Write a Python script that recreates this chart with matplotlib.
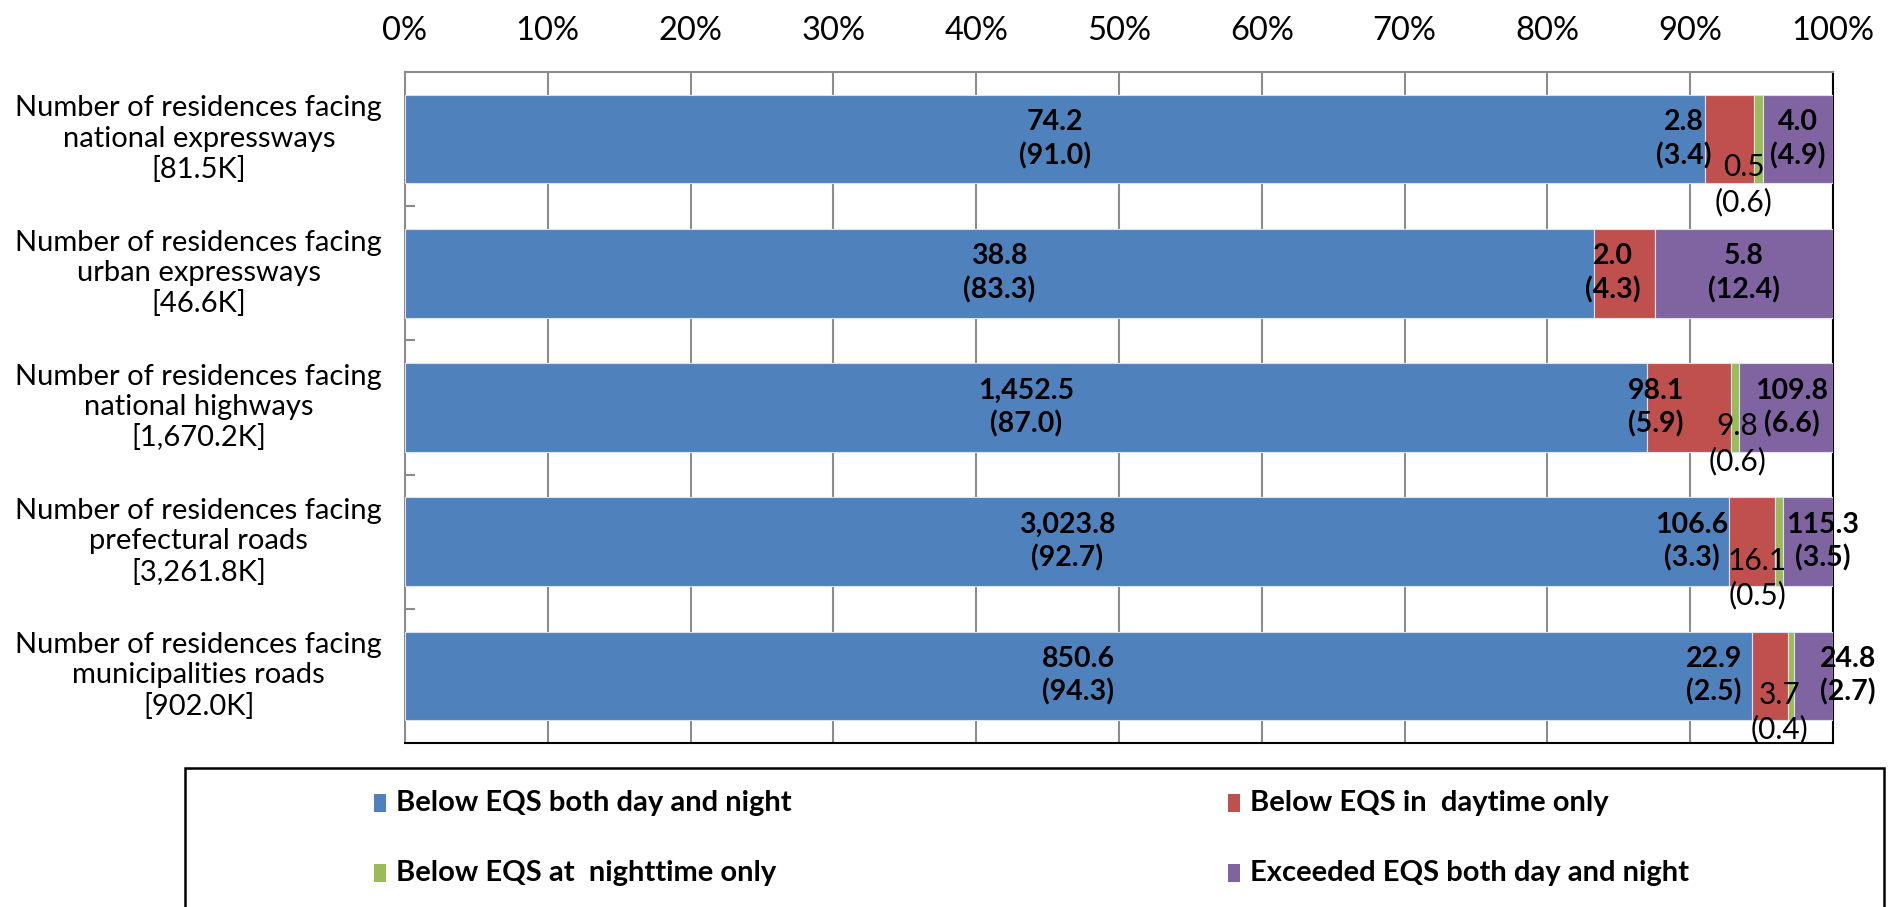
import matplotlib
matplotlib.use('Agg')
import matplotlib.pyplot as plt
import matplotlib.transforms as mtransforms
from matplotlib.patches import Rectangle

plt.rcParams['font.family'] = ['Lato', 'DejaVu Sans']

categories = ["Number of residences facing\nnational expressways\n[81.5K]",
              "Number of residences facing\nurban expressways\n[46.6K]",
              "Number of residences facing\nnational highways\n[1,670.2K]",
              "Number of residences facing\nprefectural roads\n[3,261.8K]",
              "Number of residences facing\nmunicipalities roads\n[902.0K]"]
totals = [81.5, 46.6, 1670.2, 3261.8, 902.0]

both = [74.2, 38.8, 1452.5, 3023.8, 850.6]
day_only = [2.8, 2.0, 98.1, 106.6, 22.9]
night_only = [0.5, 0.0, 9.8, 16.1, 3.7]
exceeded = [4.0, 5.8, 109.8, 115.3, 24.8]

both_pct = [91.0, 83.3, 87.0, 92.7, 94.3]
day_pct = [3.4, 4.3, 5.9, 3.3, 2.5]
night_pct = [0.6, None, 0.6, 0.5, 0.4]
exceeded_pct = [4.9, 12.4, 6.6, 3.5, 2.7]

series_names = ["Below EQS both day and night", "Below EQS in  daytime only",
                "Below EQS at  nighttime only", "Exceeded EQS both day and night"]
colors = ['#4F81BD', '#C0504D', '#9BBB59', '#8064A2']

# manual nudges of the data labels (percent of axis / fraction of a row)
red_dx = [-3.2, -0.8, -2.3, -4.2, -3.9]
green_dx = [-1.05, 0, 0.15, -1.5, -0.8]
green_dy = [0.34, 0, 0.27, 0.27, 0.27]
purple_dx = [0, 0, 0.4, 1.05, 2.4]

fig = plt.figure(figsize=(18.94, 9.07), dpi=100)
ax = fig.add_axes([0.2138, 0.1808, 0.754, 0.7398])

series = [both, day_only, night_only, exceeded]
y = list(range(len(categories)))
left = [0.0] * len(y)
segs = []
for vals, c in zip(series, colors):
    w = [v / t * 100 for v, t in zip(vals, totals)]
    ax.barh(y, w, left=left, height=0.66, color=c, edgecolor='#dce3ee', linewidth=0.8, zorder=3)
    segs.append([(l, l + wi) for l, wi in zip(left, w)])
    left = [l + wi for l, wi in zip(left, w)]

lab_fs = 20.5
for i in y:
    # blue
    a, b = segs[0][i]
    ax.text((a + b) / 2, i, f"{both[i]:,.1f}\n({both_pct[i]:.1f})", ha='center', va='center',
            fontsize=lab_fs, fontweight='bold', linespacing=1.3, zorder=5)
    # red
    a, b = segs[1][i]
    ax.text((a + b) / 2 + red_dx[i], i, f"{day_only[i]:,.1f}\n({day_pct[i]:.1f})", ha='center', va='center',
            fontsize=lab_fs, fontweight='bold', linespacing=1.3, zorder=5)
    # green
    if night_pct[i] is not None:
        a, b = segs[2][i]
        ax.text((a + b) / 2 + green_dx[i], i + green_dy[i], f"{night_only[i]:,.1f}\n({night_pct[i]:.1f})",
                ha='center', va='center', fontsize=21.5, linespacing=1.25, zorder=5)
    # purple
    a, b = segs[3][i]
    ax.text((a + b) / 2 + purple_dx[i], i, f"{exceeded[i]:,.1f}\n({exceeded_pct[i]:.1f})", ha='center', va='center',
            fontsize=lab_fs, fontweight='bold', linespacing=1.3, zorder=5)

ax.set_xlim(0, 100)
ax.set_ylim(len(y) - 0.5, -0.5)
ax.xaxis.tick_top()
ax.set_xticks(range(0, 101, 10))
ax.set_xticklabels([f"{t}%" for t in range(0, 101, 10)], fontsize=23.5)
ax.tick_params(axis='x', length=0, pad=19)
ax.grid(axis='x', color='#8c8c8c', linewidth=1.5, zorder=0)

ax.set_yticks([k + 0.5 for k in y[:-1]])
ax.set_yticklabels([])
ax.tick_params(axis='y', direction='in', length=7, width=1.5, color='#8c8c8c')

trans = mtransforms.blended_transform_factory(ax.transAxes, ax.transData)
for i, lab in enumerate(categories):
    ax.text(-0.1443, i, lab, transform=trans, ha='center', va='center', multialignment='center',
            fontsize=21, linespacing=1.2)

for s in ['left', 'top']:
    ax.spines[s].set_color('#8c8c8c')
    ax.spines[s].set_linewidth(1.5)
for s in ['right', 'bottom']:
    ax.spines[s].set_color('black')
    ax.spines[s].set_linewidth(1.5)

# legend box (runs off the bottom of the figure like the original)
W, H = 1894.0, 907.0
fig.patches.append(Rectangle((185 / W, -0.1), (1884 - 185) / W, 0.1 + 1 - 768 / H, transform=fig.transFigure,
                             fill=False, edgecolor='black', linewidth=1.8))
leg_pos = [(374, 803), (1228, 803), (374, 873), (1228, 873)]
for (px, py), name, c in zip(leg_pos, series_names, colors):
    fig.patches.append(Rectangle((px / W, 1 - (py + 9) / H), 12 / W, 18 / H, transform=fig.transFigure,
                                 facecolor=c, edgecolor='none'))
    fig.text((px + 22) / W, 1 - py / H, name, ha='left', va='center', fontsize=21, fontweight='bold')

fig.savefig('out.png', dpi=100)
